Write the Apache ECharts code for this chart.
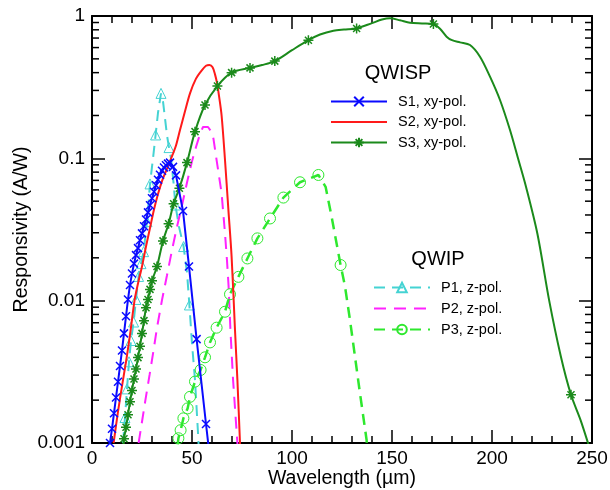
<!DOCTYPE html>
<html><head><meta charset="utf-8">
<script src="https://cdn.jsdelivr.net/npm/echarts@6/dist/echarts.min.js"></script>
<style>html,body{margin:0;padding:0;background:#fff}#c{width:610px;height:490px}</style>
</head><body><div id="c"></div>
<script>
// ---- axis ticks ----
const xMin = 0, xMax = 250, xStep = 50;
const yTickLabels = ['0.001', '0.01', '0.1', '1'];
const yMinorTicks = [0.002,0.003,0.004,0.005,0.006,0.007,0.008,0.009,
                     0.02,0.03,0.04,0.05,0.06,0.07,0.08,0.09,
                     0.2,0.3,0.4,0.5,0.6,0.7,0.8,0.9];

// ---- series names ----
const qwispNames = ['S1, xy-pol.', 'S2, xy-pol.', 'S3, xy-pol.'];
const qwipNames = ['P1, z-pol.', 'P2, z-pol.', 'P3, z-pol.'];

// ---- S1 (wavelength µm, responsivity A/W, marker flag) ----
const s1Wl   = [9,10,11,12,13,14,15,16,17,18,19,20,21,22,23,24,25,26,27,28,29,30,31,32,33,34,35,36,37,38,39,40.5,42,45.5,48.5,52.3,57,58.5];
const s1Resp = [0.001,0.00126,0.00162,0.00209,0.00269,0.00347,0.00447,0.00589,0.00776,0.0102,0.0129,0.0155,0.0182,0.0209,0.0234,0.0266,0.0297,0.0333,0.0372,0.0417,0.0468,0.0525,0.0582,0.0646,0.0708,0.0767,0.0818,0.0861,0.0895,0.0918,0.0933,0.0871,0.0759,0.0427,0.0174,0.00537,0.00136,0.00089];
const s1Mark = [1,1,1,1,1,1,1,1,1,1,1,1,1,1,1,1,1,1,1,1,1,1,1,1,1,1,1,1,1,1,1,1,1,1,1,1,1,0];

// ---- S2 ----
const s2Wl   = [10.8,13,15,17,19,21.3,23,25,27,29,31,33,35,37,39,40.5,42,44,46.5,49,52,55,57,58.7,60.3,61.5,62.5,63.5,64.8,66.5,68.2,69.8,71.5,72.7,74,74.3];
const s2Resp = [0.001,0.00166,0.00251,0.00372,0.00575,0.0101,0.0132,0.0174,0.024,0.0324,0.0437,0.0562,0.0692,0.0813,0.0955,0.108,0.123,0.158,0.214,0.286,0.363,0.417,0.447,0.453,0.437,0.389,0.339,0.275,0.2,0.0973,0.0434,0.0204,0.00622,0.00277,0.001,0.00079];

// ---- S3 ----
const s3Wl   = [15.5,16,17,18,19,20,21,22,23,24,25,26,27,28,29,30,32.5,35.5,38.3,40.8,43.7,47.5,51.5,56.5,62.7,69.8,79,85,91.4,100,108.2,114,120.7,126,132.3,140,145,149,154,159,165,170.7,174,177.3,180,184,189,194,199,204,209,213,217,222.7,228.6,234.4,239.5,244.2,248,249];
const s3Resp = [0.00093,0.00107,0.00129,0.00158,0.00195,0.00234,0.00282,0.00331,0.00398,0.00479,0.00589,0.00724,0.00891,0.0102,0.012,0.0138,0.0174,0.0263,0.0347,0.0479,0.0617,0.0933,0.154,0.237,0.322,0.4,0.432,0.452,0.482,0.575,0.676,0.741,0.789,0.804,0.818,0.891,0.944,0.964,0.933,0.897,0.887,0.879,0.813,0.716,0.676,0.653,0.625,0.518,0.375,0.257,0.158,0.1,0.0631,0.0295,0.01,0.00407,0.00218,0.00146,0.001,0.00089];
const s3Mark = [0,1,1,1,1,1,1,1,1,1,1,1,1,1,1,1,1,1,1,1,1,1,1,1,1,1,1,0,1,0,1,0,0,0,1,0,0,0,0,0,0,1,0,0,0,0,0,0,0,0,0,0,0,0,0,0,1,0,0,0];

// ---- P1 ----
const p1Wl   = [15.5,16.5,17.5,18.5,19.5,20.8,22,23.3,24.5,25.8,27.5,29,30.5,31.8,33,34.5,35.5,36.5,37.5,38.5,39.5,40.8,41.7,43.5,45.8,47.5,48.7,50,51.5,53.2,53.4];
const p1Resp = [0.001,0.00151,0.0024,0.00372,0.00525,0.00708,0.0102,0.0148,0.0182,0.0221,0.0359,0.0661,0.1,0.146,0.209,0.286,0.251,0.191,0.145,0.119,0.1,0.0667,0.047,0.0331,0.024,0.0158,0.00933,0.00501,0.00277,0.00105,0.00089];
const p1Mark = [0,1,1,1,1,1,1,1,1,1,1,1,0,1,0,1,0,0,0,1,0,0,1,0,1,0,1,0,0,0,0];

// ---- P2 ----
const p2Wl   = [23.3,25,26.7,28.8,30.8,32.5,35,37.5,40,42.5,45,47.5,50,52,54,55.5,56.5,58,59.5,60.7,62.3,64.8,66.5,67.5,68.3,69.2,70.5,72.7,73];
const p2Resp = [0.001,0.00141,0.002,0.00302,0.0045,0.00646,0.0101,0.0151,0.0227,0.0331,0.0468,0.0676,0.0955,0.12,0.148,0.166,0.171,0.166,0.155,0.138,0.0973,0.0568,0.0297,0.0191,0.0126,0.0063,0.00282,0.001,0.00083];

// ---- P3 ----
const p3Wl   = [42.8,43.2,44.3,45.7,47.8,49,51.5,54.3,56.5,59,62.3,66.5,69,73.2,77.7,82.7,89,95.7,104,113.2,116.8,119.8,124.3,126.5,129,131.5,134,137.3,137.6];
const p3Resp = [0.00096,0.00108,0.00123,0.00149,0.00175,0.00211,0.0027,0.00326,0.004,0.00509,0.00646,0.00836,0.0111,0.0147,0.0198,0.0274,0.0378,0.053,0.0679,0.0764,0.0631,0.0389,0.0178,0.0126,0.00731,0.00404,0.00223,0.00105,0.00089];
const p3Mark = [0,1,1,1,1,1,1,1,1,1,1,1,1,1,1,1,1,1,1,1,0,0,1,0,0,0,0,0,0];

const FONT = "'Liberation Sans', Arial, Helvetica, sans-serif";
const SYM_X = 'path://M0,0L10,10M10,0L0,10';
const SYM_STAR = 'path://M5,0L5,10M0,5L10,5M1.5,1.5L8.5,8.5M8.5,1.5L1.5,8.5';

function build(wl, resp, mark, sym) {
  return wl.map((x, i) => {
    const d = { value: [x, resp[i]] };
    if (mark) d.symbol = mark[i] ? sym : 'none';
    return d;
  });
}

const C = { s1:'#0a0aff', s2:'#ff1a1a', s3:'#1b8a1b', p1:'#45d3d3', p2:'#ff22ff', p3:'#2ee82e' };

const chart = echarts.init(document.getElementById('c'), null, { renderer: 'canvas' });

const axisLineStyle = { color:'#000', width:2 };
const tickStyle = { color:'#000', width:1.5 };

function xAx(pos, showLabel) {
  return {
    type:'value', position:pos, min:xMin, max:xMax, interval:xStep,
    axisLine:{ show:true, onZero:false, lineStyle:axisLineStyle },
    axisTick:{ show:true, inside:true, length:13, lineStyle:tickStyle },
    minorTick:{ show:true, splitNumber:5, length:7, lineStyle:tickStyle },
    splitLine:{ show:false },
    axisLabel:{ show:showLabel, color:'#000', fontSize:19, fontFamily:FONT, margin:6 },
    name: showLabel ? 'Wavelength (µm)' : '',
    nameLocation:'middle', nameGap:26, nameMoveOverlap:false,
    nameTextStyle:{ color:'#000', fontSize:19.5, fontFamily:FONT }
  };
}
function yAx(pos, showLabel) {
  return {
    type:'log', logBase:10, position:pos, min:0.001, max:1,
    axisLine:{ show:true, onZero:false, lineStyle:axisLineStyle },
    axisTick:{ show:true, inside:true, length:13, lineStyle:tickStyle },
    minorTick:{ show:false },
    splitLine:{ show:false },
    axisLabel:{ show:showLabel, color:'#000', fontSize:19, fontFamily:FONT, margin:7,
      formatter: v => yTickLabels[Math.round(Math.log10(v)) + 3] },
    name: showLabel ? 'Responsivity (A/W)' : '',
    nameLocation:'middle', nameGap:60, nameRotate:90, nameMoveOverlap:false,
    nameTextStyle:{ color:'#000', fontSize:19.5, fontFamily:FONT }
  };
}

const legendText = { color:'#000', fontSize:14.5, fontFamily:FONT, padding:[0,0,0,6] };
const noSym = { opacity:0 };

const option = {
  animation:false,
  backgroundColor:'#fff',
  grid:{ left:92, right:18, top:16, bottom:47, containLabel:false, outerBoundsMode:'none' },
  xAxis:[ xAx('bottom', true), xAx('top', false) ],
  yAxis:[ yAx('left', true), yAx('right', false) ],
  legend:[
    { data:[ qwispNames[0], { name:qwispNames[1], itemStyle:noSym }, qwispNames[2] ],
      orient:'vertical', left:325, top:89, itemWidth:56, itemHeight:12,
      itemGap:5.5, textStyle:legendText, selectedMode:false },
    { data:[ qwipNames[0], { name:qwipNames[1], itemStyle:noSym }, qwipNames[2] ],
      orient:'vertical', left:368, top:275, itemWidth:56, itemHeight:12,
      itemGap:6, textStyle:legendText, selectedMode:false }
  ],
  graphic:[
    { type:'text', x:398, y:73, style:{ text:'QWISP', font:'20px ' + FONT, fill:'#000', align:'center', verticalAlign:'middle' } },
    { type:'text', x:438, y:259, style:{ text:'QWIP', font:'20px ' + FONT, fill:'#000', align:'center', verticalAlign:'middle' } }
  ],
  series:[
    { name:qwipNames[0], type:'line', xAxisIndex:0, yAxisIndex:0, data:build(p1Wl, p1Resp, p1Mark, 'triangle'),
      symbol:'triangle', symbolSize:10, showAllSymbol:true,
      lineStyle:{ color:C.p1, width:2, type:[11,7] },
      itemStyle:{ color:'rgba(255,255,255,0)', borderColor:C.p1, borderWidth:1 }, z:3 },
    { name:qwipNames[1], type:'line', xAxisIndex:0, yAxisIndex:0, data:build(p2Wl, p2Resp, null), symbol:'none',
      lineStyle:{ color:C.p2, width:2, type:[12,8] }, itemStyle:{ color:C.p2 }, z:3 },
    { name:qwipNames[2], type:'line', xAxisIndex:0, yAxisIndex:0, data:build(p3Wl, p3Resp, p3Mark, 'circle'),
      symbol:'circle', symbolSize:11, showAllSymbol:true,
      lineStyle:{ color:C.p3, width:2.5, type:[11,7] },
      itemStyle:{ color:'rgba(255,255,255,0)', borderColor:C.p3, borderWidth:1 }, z:3 },
    { name:qwispNames[1], type:'line', xAxisIndex:0, yAxisIndex:0, data:build(s2Wl, s2Resp, null), symbol:'none',
      smooth:0.3, lineStyle:{ color:C.s2, width:2 }, itemStyle:{ color:C.s2 }, z:4 },
    { name:qwispNames[2], type:'line', xAxisIndex:0, yAxisIndex:0, data:build(s3Wl, s3Resp, s3Mark, SYM_STAR),
      symbol:SYM_STAR, symbolSize:10, showAllSymbol:true, smooth:0.3,
      lineStyle:{ color:C.s3, width:2 },
      itemStyle:{ color:C.s3, borderColor:C.s3, borderWidth:1.5 }, z:4 },
    { name:qwispNames[0], type:'line', xAxisIndex:0, yAxisIndex:0, data:build(s1Wl, s1Resp, s1Mark, SYM_X),
      symbol:SYM_X, symbolSize:8, showAllSymbol:true,
      lineStyle:{ color:C.s1, width:2 },
      itemStyle:{ color:C.s1, borderColor:C.s1, borderWidth:1.5 }, z:5 },
    { type:'custom', xAxisIndex:0, yAxisIndex:0, silent:true, z:10,
      data: yMinorTicks.map(v => [xMin, v]),
      renderItem:(params, api) => {
        const v = api.value(1);
        const pL = api.coord([xMin, v]);
        const pR = api.coord([xMax, v]);
        return { type:'group', children:[
          { type:'line', shape:{ x1:pL[0], y1:pL[1], x2:pL[0] + 7, y2:pL[1] }, style:{ stroke:'#000', lineWidth:1.5 } },
          { type:'line', shape:{ x1:pR[0], y1:pR[1], x2:pR[0] - 7, y2:pR[1] }, style:{ stroke:'#000', lineWidth:1.5 } }
        ]};
      } }
  ]
};
chart.setOption(option);
</script>
</body></html>
